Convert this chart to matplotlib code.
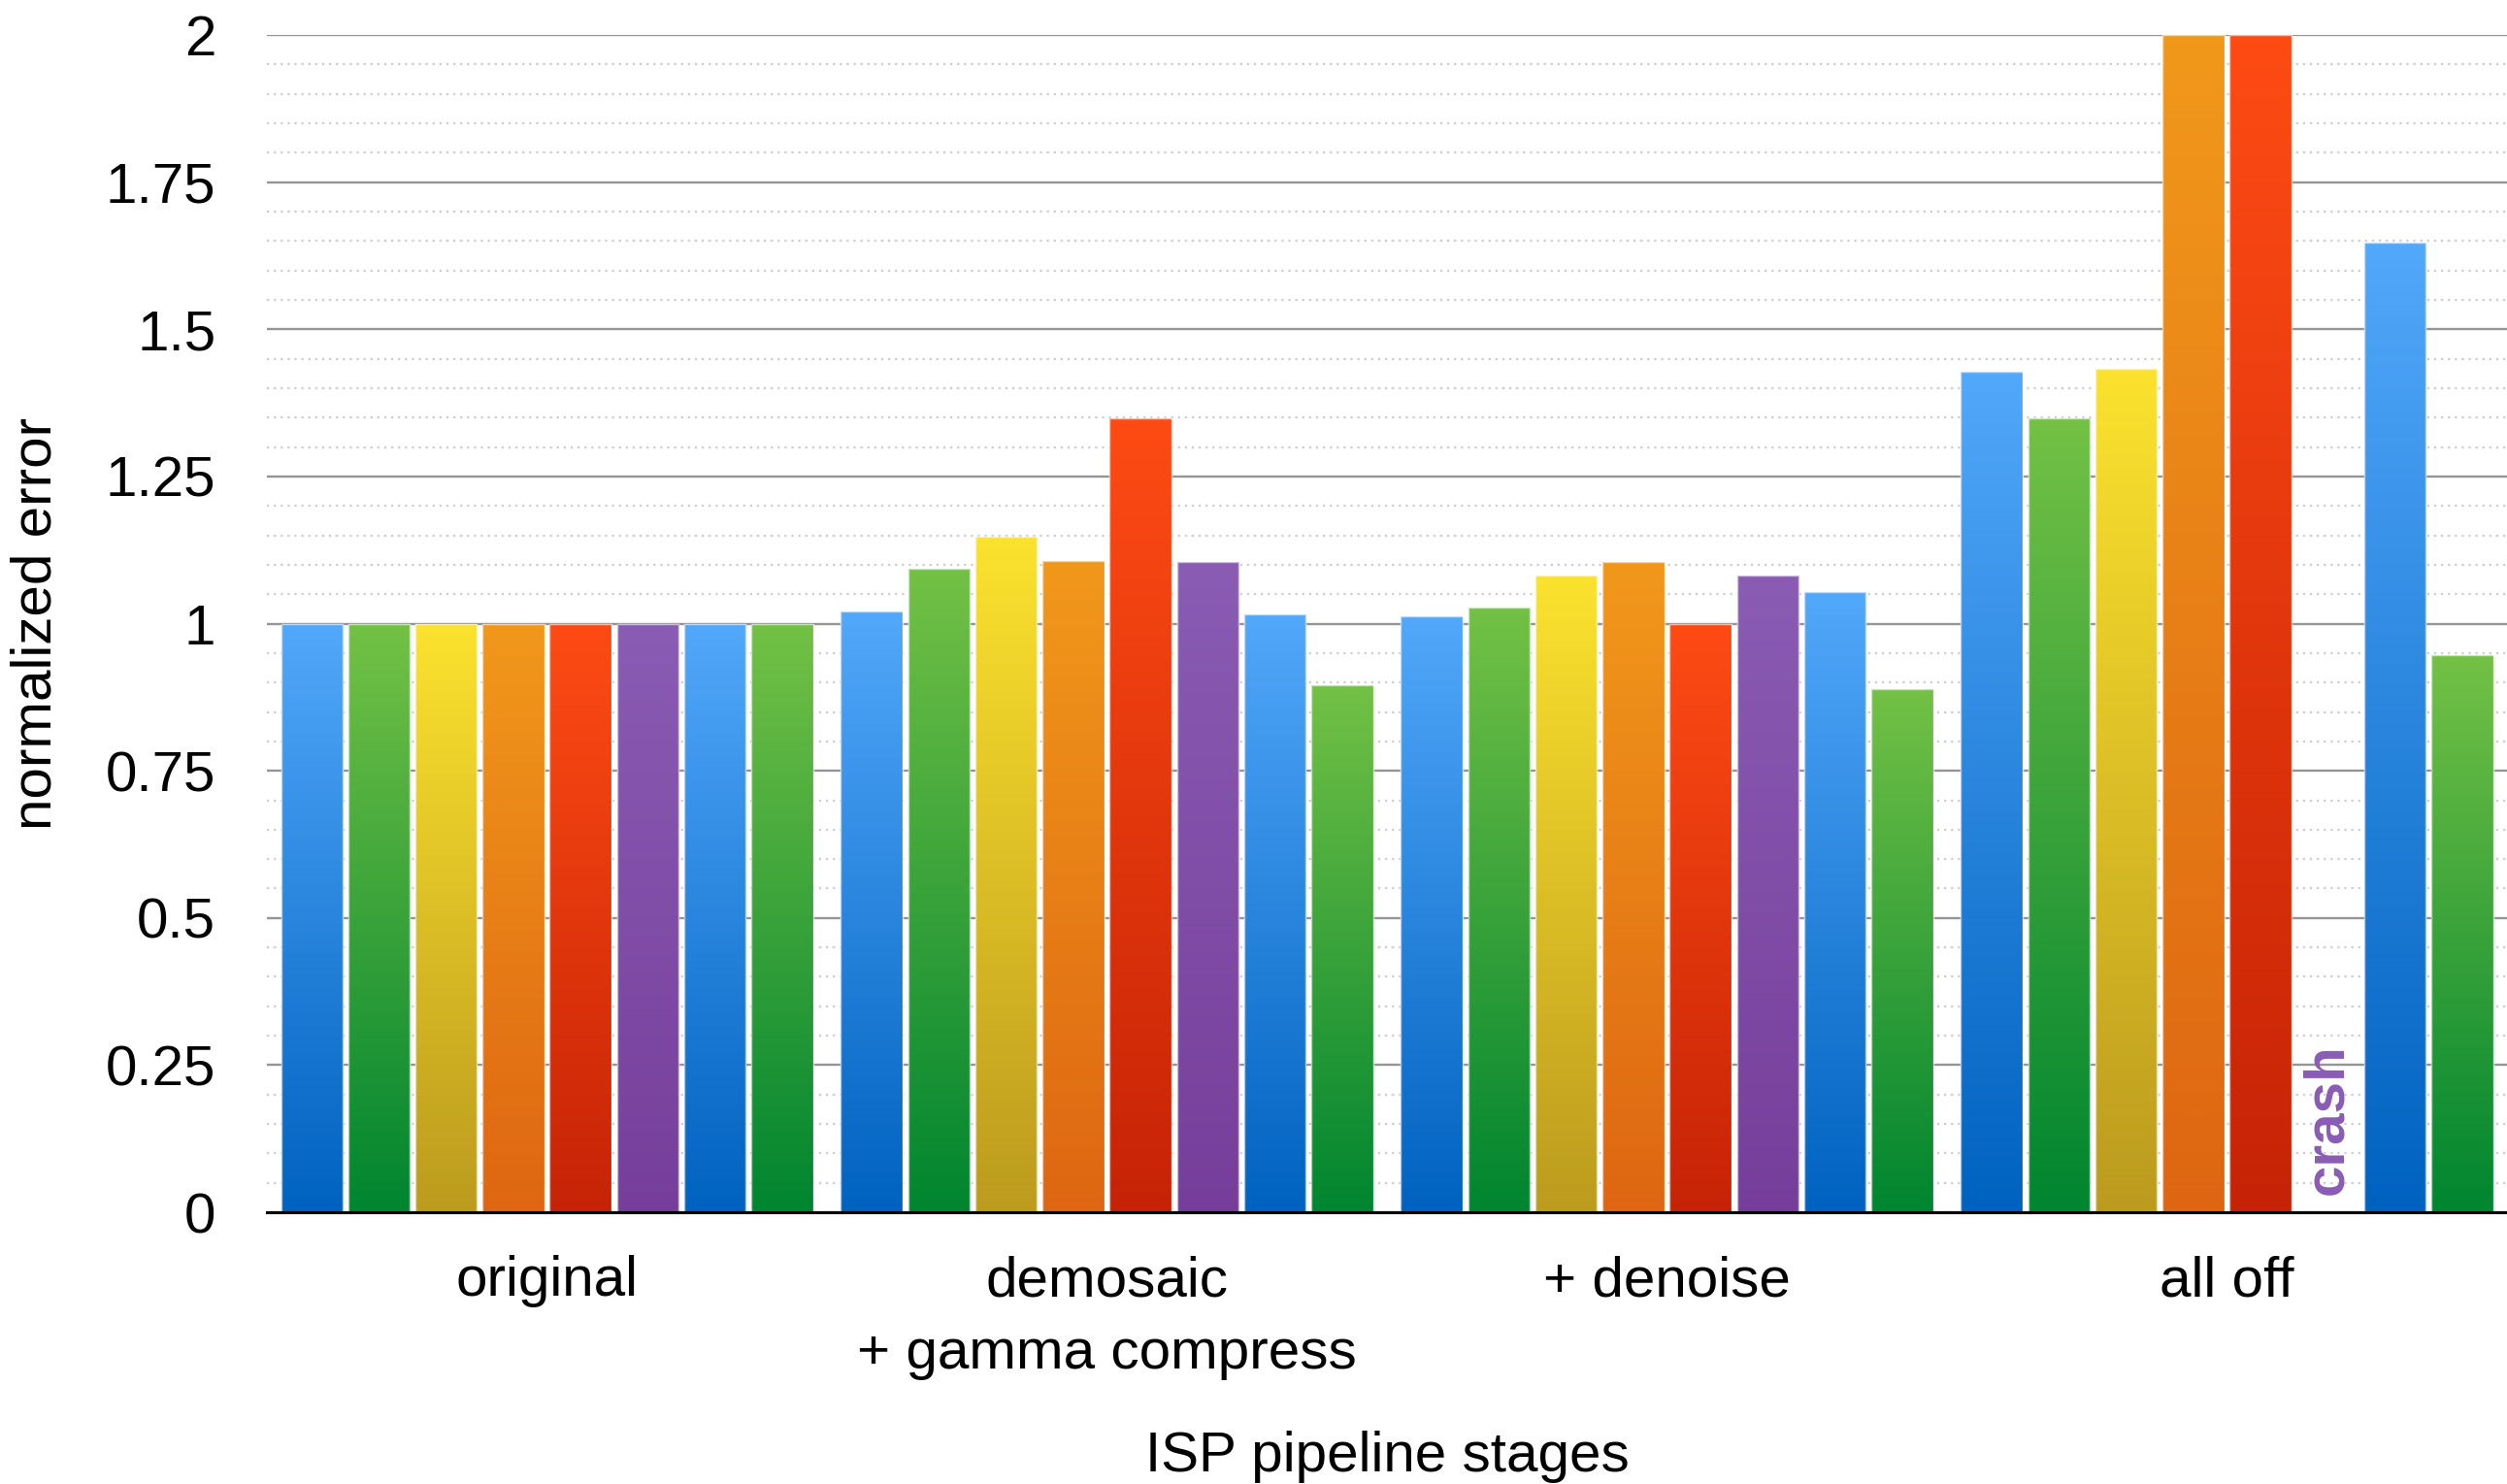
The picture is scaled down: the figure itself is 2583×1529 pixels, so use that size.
import numpy as np
import matplotlib
matplotlib.use("Agg")
import matplotlib.pyplot as plt
from matplotlib.colors import LinearSegmentedColormap
from matplotlib.ticker import MultipleLocator

plt.rcParams['font.family'] = ['Liberation Sans', 'DejaVu Sans']

stages = ["original", "demosaic\n+ gamma compress", "+ denoise", "all off"]

# one list per series, one value per pipeline stage (None = run crashed)
series_blue_a   = [1.00, 1.020, 1.012, 1.428]
series_green_a  = [1.00, 1.094, 1.028, 1.349]
series_yellow   = [1.00, 1.147, 1.081, 1.433]
series_orange   = [1.00, 1.107, 1.104, 2.00]
series_red      = [1.00, 1.349, 1.000, 2.00]
series_purple   = [1.00, 1.104, 1.081, None]
series_blue_b   = [1.00, 1.015, 1.054, 1.647]
series_green_b  = [1.00, 0.896, 0.888, 0.946]

yticks = [0, 0.25, 0.5, 0.75, 1, 1.25, 1.5, 1.75, 2]
ytick_labels = ["0", "0.25", "0.5", "0.75", "1", "1.25", "1.5", "1.75", "2"]

all_series = [series_blue_a, series_green_a, series_yellow, series_orange,
              series_red, series_purple, series_blue_b, series_green_b]

# (top, bottom) gradient colours for each series
gradients = {
    "blue":   ("#52A8FA", "#0062C0"),
    "green":  ("#73C145", "#008530"),
    "yellow": ("#FBE22E", "#BC9B1E"),
    "orange": ("#F1981B", "#DE6612"),
    "red":    ("#FE4B14", "#C62306"),
    "purple": ("#8A5CB4", "#763E9A"),
}
series_colors = ["blue", "green", "yellow", "orange", "red", "purple", "blue", "green"]

fig = plt.figure(figsize=(25.83, 15.29), dpi=100)
ax = fig.add_axes([0.1065, 0.1831, 0.8935, 0.7933])

pitch = 0.12
width = 0.11
n = len(all_series)
x = np.arange(len(stages))

ax.set_xlim(-0.5, len(stages) - 0.5)
ax.set_ylim(0, 2)

# grid: solid majors every 0.25, dotted minors every 0.05
ax.yaxis.set_major_locator(MultipleLocator(0.25))
ax.yaxis.set_minor_locator(MultipleLocator(0.05))
ax.grid(which="major", axis="y", color="#959595", linewidth=1.7, zorder=0)
ax.grid(which="minor", axis="y", color="#cccccc", linewidth=1.6,
        linestyle=(0, (1, 2.2)), zorder=0)
ax.set_axisbelow(True)

grad = np.linspace(1, 0, 256).reshape(-1, 1)
for j, (vals, cname) in enumerate(zip(all_series, series_colors)):
    top, bottom = gradients[cname]
    cmap = LinearSegmentedColormap.from_list(cname, [bottom, top])
    pos = x + (j - (n - 1) / 2) * pitch
    heights = [np.nan if v is None else v for v in vals]
    bars = ax.bar(pos, heights, width=width, facecolor="none",
                  edgecolor="none", zorder=2)
    for rect, v in zip(bars, heights):
        if np.isnan(v):
            continue
        x0, w, h = rect.get_x(), rect.get_width(), rect.get_height()
        im = ax.imshow(grad, cmap=cmap, vmin=0, vmax=1, aspect="auto",
                       extent=[x0, x0 + w, 0, h], interpolation="bicubic",
                       zorder=2)
        im.set_clip_path(rect)
        ax.add_patch(plt.Rectangle((x0, 0), w, h, facecolor="none",
                                   edgecolor=(1, 1, 1, 0.6), linewidth=1.0,
                                   zorder=3))
    # mark crashed runs
    for p, v in zip(pos, heights):
        if np.isnan(v):
            ax.text(p, 0.03, "crash", rotation=90, ha="center", va="bottom",
                    color=gradients[cname][0], fontsize=42, fontweight="bold",
                    zorder=4)

ax.set_xlim(-0.5, len(stages) - 0.5)
ax.set_ylim(0, 2)

for s in ["left", "right", "top"]:
    ax.spines[s].set_visible(False)
ax.spines["bottom"].set_color("black")
ax.spines["bottom"].set_linewidth(2.2)
ax.spines["bottom"].set_zorder(5)

ax.set_yticks(yticks)
ax.set_yticklabels(ytick_labels)
ax.set_xticks(x)
ax.set_xticklabels(stages, linespacing=1.5)
ax.tick_params(axis="y", which="both", length=0, pad=38, labelsize=42)
ax.tick_params(axis="x", length=0, pad=32, labelsize=42)

ax.set_ylabel("normalized error", fontsize=42, labelpad=32)
ax.set_xlabel("ISP pipeline stages", fontsize=42, labelpad=37)

fig.savefig("out.png", dpi=100, facecolor="white")
